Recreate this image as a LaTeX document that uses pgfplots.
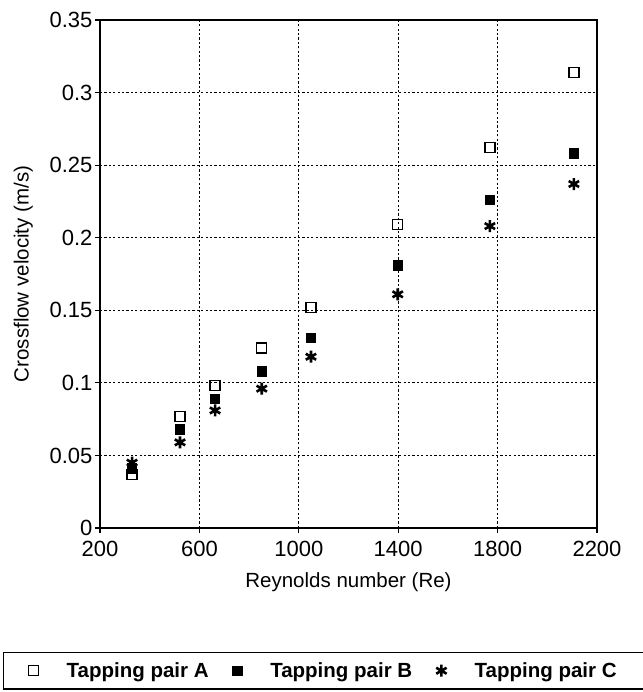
\documentclass[border=0pt]{standalone}
\usepackage{fontspec}
\setmainfont{Liberation Sans}
\usepackage{pgfplots}
\pgfplotsset{compat=1.18}

\begin{document}
\begin{tikzpicture}
\begin{axis}[
    name=ax,
    width=497pt, height=508pt, scale only axis,
    xmin=200, xmax=2200, ymin=0, ymax=0.35,
    xtick={200,600,...,2200},
    ytick={0,0.05,0.1,0.15,0.2,0.25,0.3,0.35},
    yticklabels={0,0.05,0.1,0.15,0.2,0.25,0.3,0.35},
    /pgf/number format/assume math mode=true,
    /pgf/number format/set thousands separator={},
    xtick pos=bottom, ytick pos=left, tick align=outside,
    major tick length=5pt,
    every tick/.style={black, line width=1.2pt},
    axis line style={line width=1.5pt},
    grid=major,
    major grid style={black, line width=1.2pt, dash pattern=on 2.2pt off 2.2pt},
    tick label style={font=\fontsize{22}{26}\selectfont},
    xticklabel style={yshift=-5pt},
    yticklabel style={xshift=1pt},
    label style={font=\fontsize{20.5}{24}\selectfont},
    xlabel={Reynolds number (Re)},
    xlabel style={yshift=-9pt},
    ylabel={Crossflow velocity (m/s)},
    ylabel style={yshift=10pt},
    legend columns=3,
    legend cell align=left,
    legend style={
        at={(-0.195,-0.244)}, anchor=north west,
        draw=black, line width=1.2pt,
        font=\bfseries\fontsize{20.5}{24}\selectfont,
        inner xsep=25pt, inner ysep=8pt,
        /tikz/every odd column/.append style={column sep=26pt},
        /tikz/every even column/.append style={column sep=22pt},
    },
]
% Tapping pair A
\addplot[only marks, mark=square, mark size=5pt, mark options={black, line width=1.4pt, fill=white}]
coordinates {
    (329,0.037) (522,0.077) (663,0.098) (851,0.124)
    (1049,0.152) (1398,0.209) (1769,0.262) (2107,0.314)
};
\addlegendentry{Tapping pair A}
% Tapping pair B
\addplot[only marks, mark=square*, mark size=4.8pt, mark options={black, line width=0.8pt}]
coordinates {
    (329,0.041) (522,0.068) (663,0.089) (851,0.108)
    (1049,0.131) (1398,0.181) (1769,0.226) (2107,0.258)
};
\addlegendentry{Tapping pair B}
% Tapping pair C
\addplot[only marks, mark=asterisk, mark size=6pt, mark options={black, line width=2.6pt}]
coordinates {
    (329,0.045) (522,0.059) (663,0.081) (851,0.096)
    (1049,0.118) (1398,0.161) (1769,0.208) (2107,0.237)
};
\addlegendentry{Tapping pair C}
\end{axis}
\pgfresetboundingbox
\path[use as bounding box] ([xshift=-100pt,yshift=-164pt]ax.south west)
    rectangle ([xshift=46pt,yshift=20pt]ax.north east);
\end{tikzpicture}
\end{document}
